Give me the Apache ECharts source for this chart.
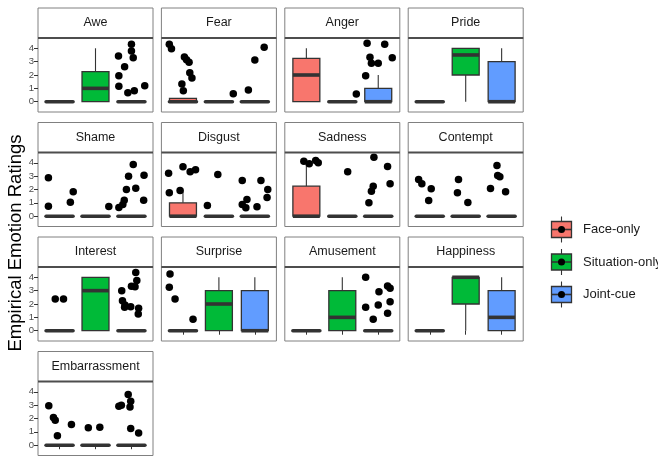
<!DOCTYPE html>
<html>
<head>
<meta charset="utf-8">
<script src="https://cdn.jsdelivr.net/npm/echarts@6/dist/echarts.min.js"></script>
<style>
  html, body { margin: 0; padding: 0; background: #ffffff; }
  #chart { width: 658px; height: 457px; }
</style>
</head>
<body>
<div id="chart"></div>
<script>
// Conditions, colours and ticks
const conditions = ['Face-only', 'Situation-only', 'Joint-cue'];
const conditionColors = ['#F8766D', '#00BA38', '#619CFF'];
const yTicks = [0, 1, 2, 3, 4];
const xTicks = [1, 2, 3];
const emotions = ['Awe', 'Fear', 'Anger', 'Pride', 'Shame', 'Disgust', 'Sadness',
  'Contempt', 'Interest', 'Surprise', 'Amusement', 'Happiness', 'Embarrassment'];

// Box statistics per condition: [lower whisker, Q1, median, Q3, upper whisker]
const aweBoxes = [[0, 0, 0, 0, 0], [0, 0, 1, 2.25, 4], [0, 0, 0, 0, 0]];
const fearBoxes = [[0, 0, 0, 0.25, 0.25], [0, 0, 0, 0, 0], [0, 0, 0, 0, 0]];
const angerBoxes = [[0, 0, 2, 3.25, 4], [0, 0, 0, 0, 0], [0, 0, 0, 1, 2]];
const prideBoxes = [[0, 0, 0, 0, 0], [0, 2, 3.5, 4, 4], [0, 0, 0, 3, 4]];
const shameBoxes = [[0, 0, 0, 0, 0], [0, 0, 0, 0, 0], [0, 0, 0, 0, 0]];
const disgustBoxes = [[0, 0, 0, 1, 2], [0, 0, 0, 0, 0], [0, 0, 0, 0, 0]];
const sadnessBoxes = [[0, 0, 0, 2.25, 4], [0, 0, 0, 0, 0], [0, 0, 0, 0, 0]];
const contemptBoxes = [[0, 0, 0, 0, 0], [0, 0, 0, 0, 0], [0, 0, 0, 0, 0]];
const interestBoxes = [[0, 0, 0, 0, 0], [0, 0, 3, 4, 4], [0, 0, 0, 0, 0]];
const surpriseBoxes = [[0, 0, 0, 0, 0], [0, 0, 2, 3, 4], [0, 0, 0, 3, 4]];
const amusementBoxes = [[0, 0, 0, 0, 0], [0, 0, 1, 3, 4], [0, 0, 0, 0, 0]];
const happinessBoxes = [[0, 0, 0, 0, 0], [0, 2, 4, 4, 4], [0, 0, 1, 3, 4]];
const embarrassmentBoxes = [[0, 0, 0, 0, 0], [0, 0, 0, 0, 0], [0, 0, 0, 0, 0]];

// Jittered outlying ratings: [condition position (1-3) with jitter, rating]
const awePoints = [[2.64, 3.42], [3.0, 4.3], [3.0, 3.8], [3.05, 3.3], [2.81, 2.62],
  [2.65, 1.95], [2.65, 1.15], [2.9, 0.67], [3.08, 0.82], [3.37, 1.2]];
const fearPoints = [[0.62, 4.3], [0.68, 3.97], [1.04, 3.35], [1.1, 3.15], [1.17, 2.95],
  [1.19, 2.17], [1.25, 1.78], [0.97, 1.33], [1.01, 0.82],
  [2.4, 0.6], [2.82, 0.88], [3.0, 3.12], [3.26, 4.07]];
const angerPoints = [[2.39, 0.58], [2.69, 4.37], [3.18, 4.3], [2.77, 3.33], [3.39, 3.3],
  [2.81, 2.88], [3.0, 2.88], [2.65, 1.95]];
const pridePoints = [];
const shamePoints = [[0.69, 2.88], [0.69, 0.75], [1.3, 1.05], [1.38, 1.83], [2.37, 0.73],
  [2.65, 0.65], [2.76, 0.88], [2.8, 1.2], [2.86, 2.0], [2.92, 3.0], [3.05, 3.87],
  [3.12, 2.1], [3.35, 3.07], [3.34, 1.2]];
const disgustPoints = [[0.6, 3.22], [1.0, 3.7], [1.2, 3.33], [1.35, 3.47], [0.62, 1.75],
  [0.92, 1.93], [1.68, 0.8], [1.97, 3.12], [2.65, 2.67], [3.17, 2.67], [3.36, 2.0],
  [3.34, 1.4], [2.78, 1.25], [2.65, 0.88], [2.75, 0.63], [3.06, 0.7]];
const sadnessPoints = [[0.93, 4.12], [1.08, 3.92], [1.26, 4.17], [1.33, 4.0], [2.15, 3.32],
  [2.88, 4.42], [3.26, 3.72], [3.33, 2.43], [2.86, 2.25], [2.81, 1.87], [2.74, 1.0]];
const contemptPoints = [[0.69, 2.75], [0.78, 2.43], [1.04, 2.05], [0.97, 1.18],
  [1.8, 2.75], [1.77, 1.75], [2.06, 1.03],
  [2.87, 3.8], [2.89, 3.05], [2.95, 2.95], [2.69, 2.07], [3.11, 1.83]];
const interestPoints = [[0.88, 2.37], [1.11, 2.37], [2.73, 3.0], [2.75, 2.25], [2.82, 1.93],
  [2.98, 1.8], [3.1, 3.3], [3.15, 3.75], [3.12, 4.35], [3.2, 1.68], [3.19, 1.25],
  [2.81, 1.75], [3.0, 3.33]];
const surprisePoints = [[0.64, 4.25], [0.62, 3.25], [0.78, 2.37], [1.28, 0.85]];
const amusementPoints = [[2.65, 4.0], [3.26, 3.35], [3.33, 3.17], [3.02, 2.92], [3.33, 2.17],
  [3.0, 1.93], [2.65, 1.75], [3.26, 1.3], [2.86, 0.85]];
const happinessPoints = [];
const embarrassmentPoints = [[0.7, 2.95], [0.83, 2.08], [0.88, 1.87], [0.94, 0.7], [1.33, 1.55],
  [1.8, 1.3], [2.12, 1.35], [2.65, 2.92], [2.72, 3.0], [2.91, 3.8], [2.98, 3.3],
  [2.96, 2.87], [2.98, 1.25], [3.2, 0.92]];

const panelBoxes = [aweBoxes, fearBoxes, angerBoxes, prideBoxes, shameBoxes, disgustBoxes,
  sadnessBoxes, contemptBoxes, interestBoxes, surpriseBoxes, amusementBoxes,
  happinessBoxes, embarrassmentBoxes];
const panelPoints = [awePoints, fearPoints, angerPoints, pridePoints, shamePoints,
  disgustPoints, sadnessPoints, contemptPoints, interestPoints, surprisePoints,
  amusementPoints, happinessPoints, embarrassmentPoints];

// Facet layout
const NCOL = 4;
const PANEL_LEFT = 38, PANEL_TOP = 38, PANEL_W = 115, PANEL_H = 74;
const COL_STEP = 123.4, ROW_STEP = 114.5, STRIP_H = 30;
const FONT = '"Liberation Sans", Arial, Helvetica, sans-serif';
const INK = '#333333';

const chart = echarts.init(document.getElementById('chart'), null, { renderer: 'canvas' });

function renderBox(params, api) {
  const ci = api.value(0);
  const x = ci + 1;
  const lo = api.value(1), q1 = api.value(2), med = api.value(3), q3 = api.value(4), hi = api.value(5);
  const half = api.size([0.375, 0])[0];
  const cx = api.coord([x, 0])[0];
  const yLo = api.coord([x, lo])[1];
  const yQ1 = api.coord([x, q1])[1];
  const yMed = api.coord([x, med])[1];
  const yQ3 = api.coord([x, q3])[1];
  const yHi = api.coord([x, hi])[1];
  const flat = q3 - q1 < 0.5;
  const children = [];
  if (hi > q3) {
    children.push({ type: 'line', shape: { x1: cx, y1: yQ3, x2: cx, y2: yHi },
      style: { stroke: INK, lineWidth: 1.1 } });
  }
  if (lo < q1) {
    children.push({ type: 'line', shape: { x1: cx, y1: yQ1, x2: cx, y2: yLo },
      style: { stroke: INK, lineWidth: 1.1 } });
  }
  children.push({ type: 'rect', shape: { x: cx - half, y: yQ3, width: half * 2, height: yQ1 - yQ3 },
    style: { fill: conditionColors[ci], stroke: INK, lineWidth: 1.3 } });
  children.push({ type: 'line', shape: { x1: cx - half, y1: yMed, x2: cx + half, y2: yMed },
    style: { stroke: INK, lineWidth: 3.6, lineCap: flat ? 'round' : 'butt' } });
  return { type: 'group', children: children };
}

const grids = [], xAxes = [], yAxes = [], series = [], graphics = [];
const nPanels = emotions.length;

emotions.forEach(function (name, i) {
  const col = i % NCOL, row = Math.floor(i / NCOL);
  const left = PANEL_LEFT + COL_STEP * col;
  const top = PANEL_TOP + ROW_STEP * row;
  const bottomMost = i + NCOL >= nPanels;

  grids.push({ left: left, top: top, width: PANEL_W, height: PANEL_H,
    show: true, borderColor: '#808080', borderWidth: 1, backgroundColor: '#ffffff' });

  xAxes.push({ gridIndex: i, type: 'value', min: 0.4, max: 3.6,
    axisLine: { show: false }, splitLine: { show: false },
    axisTick: { show: bottomMost, customValues: xTicks, length: 4, lineStyle: { color: INK, width: 1 } },
    axisLabel: { show: false } });

  yAxes.push({ gridIndex: i, type: 'value', min: -0.77, max: 4.77,
    axisLine: { show: false }, splitLine: { show: false },
    axisTick: { show: col === 0, customValues: yTicks, length: 4, lineStyle: { color: INK, width: 1 } },
    axisLabel: { show: col === 0, customValues: yTicks, fontSize: 9.5, color: '#4D4D4D',
      fontFamily: FONT, margin: 4 } });

  series.push({ type: 'custom', xAxisIndex: i, yAxisIndex: i, renderItem: renderBox,
    dimensions: ['cond', 'lo', 'q1', 'med', 'q3', 'hi'],
    encode: { x: 0, y: [1, 2, 3, 4, 5] },
    data: panelBoxes[i].map(function (b, k) { return [k].concat(b); }),
    silent: true, z: 2 });

  series.push({ type: 'scatter', xAxisIndex: i, yAxisIndex: i, data: panelPoints[i],
    symbol: 'circle', symbolSize: 7.5, itemStyle: { color: '#000000', opacity: 1 },
    silent: true, z: 3 });

  // facet strip
  graphics.push({ type: 'rect', shape: { x: left, y: top - STRIP_H, width: PANEL_W, height: STRIP_H },
    style: { fill: '#ffffff', stroke: '#808080', lineWidth: 1 }, z: 10 });
  graphics.push({ type: 'line', shape: { x1: left, y1: top, x2: left + PANEL_W, y2: top },
    style: { stroke: '#4D4D4D', lineWidth: 2 }, z: 11 });
  graphics.push({ type: 'text', x: left + PANEL_W / 2, y: top - STRIP_H / 2,
    style: { text: name, font: '12.5px ' + FONT, fill: '#1A1A1A',
      textAlign: 'center', textVerticalAlign: 'middle' }, z: 12 });
});

// y-axis title
graphics.push({ type: 'text', x: 16, y: 243, rotation: Math.PI / 2,
  style: { text: 'Empirical Emotion Ratings', font: '18.5px ' + FONT, fill: '#000000',
    textAlign: 'center', textVerticalAlign: 'middle' }, z: 12 });

// legend with boxplot keys
conditions.forEach(function (label, k) {
  const cy = 229.5 + 32.5 * k;
  const kx = 551.5, kw = 20, kh = 16, mx = kx + kw / 2;
  graphics.push({ type: 'line', shape: { x1: mx, y1: cy - 13, x2: mx, y2: cy + 13 },
    style: { stroke: INK, lineWidth: 1.1 }, z: 12 });
  graphics.push({ type: 'rect', shape: { x: kx, y: cy - kh / 2, width: kw, height: kh },
    style: { fill: conditionColors[k], stroke: INK, lineWidth: 1.3 }, z: 13 });
  graphics.push({ type: 'line', shape: { x1: kx, y1: cy, x2: kx + kw, y2: cy },
    style: { stroke: INK, lineWidth: 1.6 }, z: 14 });
  graphics.push({ type: 'circle', shape: { cx: mx, cy: cy, r: 3.5 },
    style: { fill: '#000000' }, z: 15 });
  graphics.push({ type: 'text', x: 583, y: cy,
    style: { text: label, font: '13px ' + FONT, fill: '#1A1A1A',
      textAlign: 'left', textVerticalAlign: 'middle' }, z: 15 });
});

chart.setOption({
  animation: false,
  backgroundColor: '#ffffff',
  grid: grids,
  xAxis: xAxes,
  yAxis: yAxes,
  series: series,
  graphic: { elements: graphics }
});
</script>
</body>
</html>
